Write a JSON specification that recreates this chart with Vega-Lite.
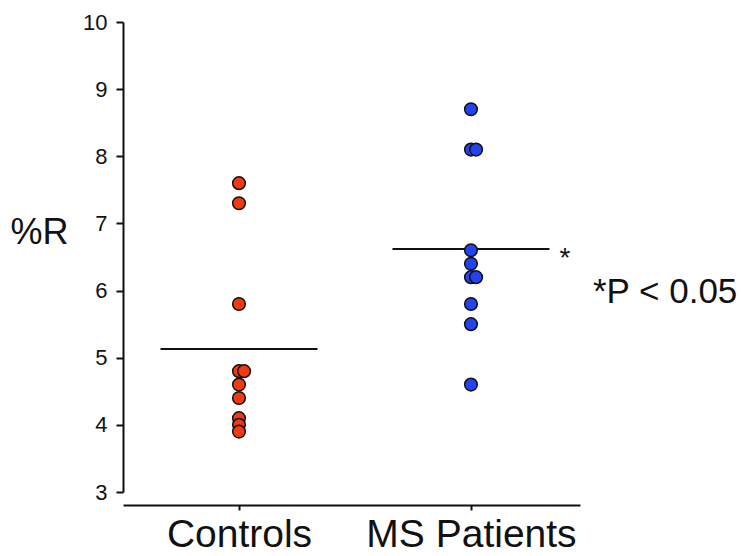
{
  "$schema": "https://vega.github.io/schema/vega-lite/v6.json",
  "width": 457,
  "height": 470,
  "autosize": {"type": "none"},
  "padding": {"left": 123, "top": 22, "right": 161, "bottom": 64},
  "background": "white",
  "config": {
    "view": {"stroke": null},
    "font": "Liberation Sans",
    "axis": {"grid": false, "domainColor": "#111", "tickColor": "#111", "labelColor": "#111", "titleColor": "#111", "labelFont": "Liberation Sans", "titleFont": "Liberation Sans", "titleFontWeight": "normal"}
  },
  "datasets": {
    "pts": [
      {"group": "Controls", "center": 0.5, "pos": 0.5, "value": 7.6},
      {"group": "Controls", "center": 0.5, "pos": 0.5, "value": 7.3},
      {"group": "Controls", "center": 0.5, "pos": 0.5, "value": 5.8},
      {"group": "Controls", "center": 0.5, "pos": 0.5, "value": 4.8},
      {"group": "Controls", "center": 0.5, "pos": 0.522, "value": 4.8},
      {"group": "Controls", "center": 0.5, "pos": 0.5, "value": 4.6},
      {"group": "Controls", "center": 0.5, "pos": 0.5, "value": 4.4},
      {"group": "Controls", "center": 0.5, "pos": 0.5, "value": 4.1},
      {"group": "Controls", "center": 0.5, "pos": 0.5, "value": 4.0},
      {"group": "Controls", "center": 0.5, "pos": 0.5, "value": 3.9},
      {"group": "MS Patients", "center": 1.5, "pos": 1.5, "value": 8.7},
      {"group": "MS Patients", "center": 1.5, "pos": 1.5, "value": 8.1},
      {"group": "MS Patients", "center": 1.5, "pos": 1.522, "value": 8.1},
      {"group": "MS Patients", "center": 1.5, "pos": 1.5, "value": 6.6},
      {"group": "MS Patients", "center": 1.5, "pos": 1.5, "value": 6.4},
      {"group": "MS Patients", "center": 1.5, "pos": 1.5, "value": 6.2},
      {"group": "MS Patients", "center": 1.5, "pos": 1.522, "value": 6.2},
      {"group": "MS Patients", "center": 1.5, "pos": 1.5, "value": 5.8},
      {"group": "MS Patients", "center": 1.5, "pos": 1.5, "value": 5.5},
      {"group": "MS Patients", "center": 1.5, "pos": 1.5, "value": 4.6}
    ],
    "star": [
      {"label": "*", "x": 1.905, "y": 6.35}
    ],
    "note": [
      {"label": "*P < 0.05", "x": 2.026, "y": 5.815}
    ]
  },
  "layer": [
    {
      "data": {"name": "pts"},
      "mark": {"type": "tick", "orient": "horizontal", "size": 157, "thickness": 2, "color": "#111"},
      "encoding": {
        "x": {"field": "center", "type": "quantitative", "scale": {"domain": [0, 1.97], "nice": false, "zero": false},
          "axis": {"values": [0.5, 1.5], "labelExpr": "datum.value == 0.5 ? 'Controls' : 'MS Patients'", "title": null, "offset": 13, "domainWidth": 2, "tickWidth": 2, "tickSize": 5, "labelFontSize": 39, "labelPadding": 5, "labelFlush": false, "labelOverlap": false, "labelLimit": 0}},
        "y": {"aggregate": "mean", "field": "value", "type": "quantitative", "scale": {"domain": [3, 10], "nice": false, "zero": false},
          "axis": {"values": [3, 4, 5, 6, 7, 8, 9, 10], "format": "d", "title": "%R", "titleAngle": 0, "titleAlign": "left", "titleBaseline": "alphabetic", "titleX": -113, "titleY": 221, "titleFontSize": 36, "domainWidth": 2, "tickWidth": 2, "tickSize": 7, "labelFontSize": 22, "labelPadding": 9}}
      }
    },
    {
      "data": {"name": "pts"},
      "mark": {"type": "point", "filled": true, "shape": "circle", "size": 160, "stroke": "#111", "strokeWidth": 1.5, "opacity": 1},
      "encoding": {
        "x": {"field": "pos", "type": "quantitative"},
        "y": {"field": "value", "type": "quantitative"},
        "fill": {"field": "group", "type": "nominal", "scale": {"domain": ["Controls", "MS Patients"], "range": ["#f03a10", "#2443f0"]}, "legend": null}
      }
    },
    {
      "data": {"name": "star"},
      "mark": {"type": "text", "baseline": "alphabetic", "align": "center", "fontSize": 28, "color": "#111", "clip": false},
      "encoding": {
        "x": {"field": "x", "type": "quantitative"},
        "y": {"field": "y", "type": "quantitative"},
        "text": {"field": "label"}
      }
    },
    {
      "data": {"name": "note"},
      "mark": {"type": "text", "baseline": "alphabetic", "align": "left", "fontSize": 35, "color": "#111", "clip": false},
      "encoding": {
        "x": {"field": "x", "type": "quantitative"},
        "y": {"field": "y", "type": "quantitative"},
        "text": {"field": "label"}
      }
    }
  ]
}
